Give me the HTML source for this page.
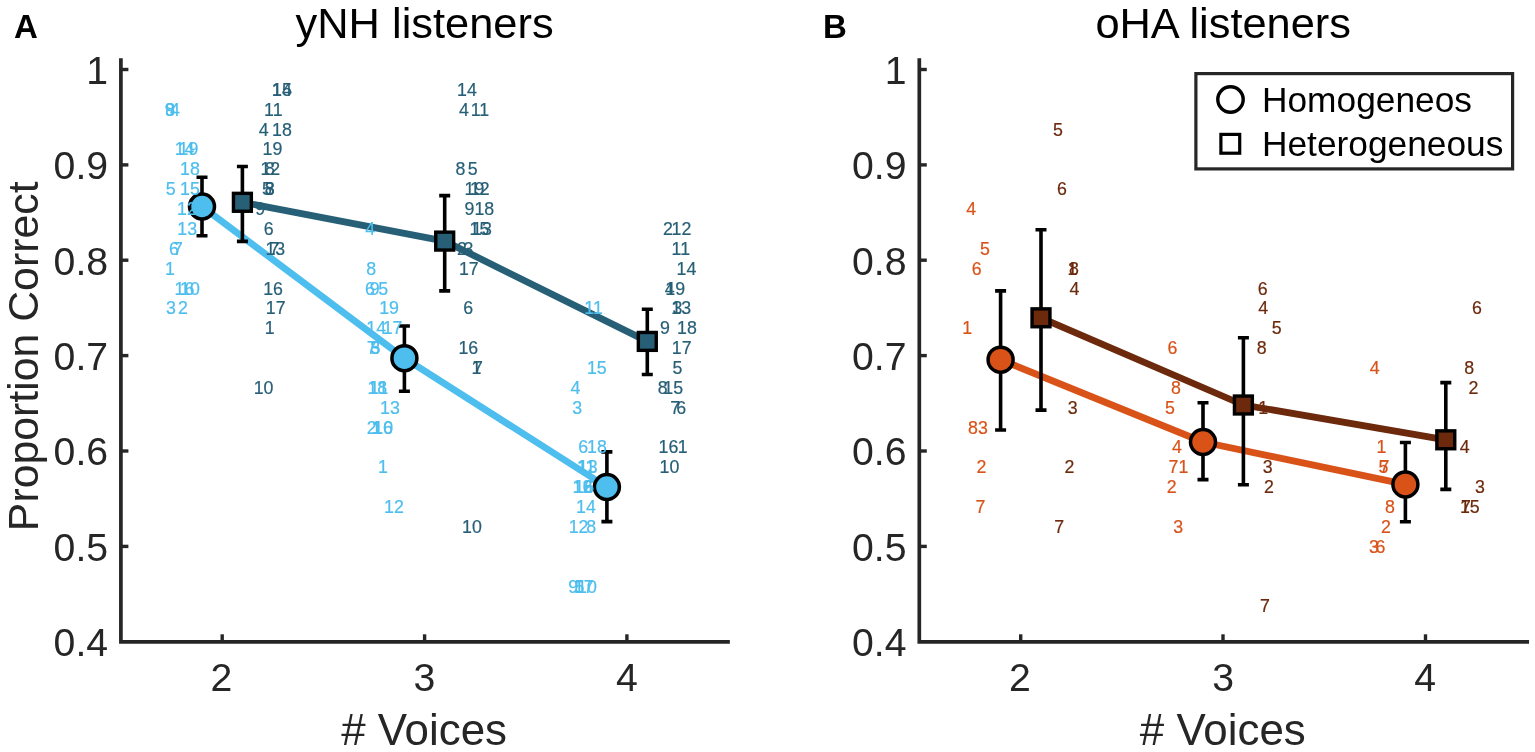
<!DOCTYPE html>
<html lang="en"><head><meta charset="utf-8"><title>Figure: yNH and oHA listeners</title>
<style>
html,body{margin:0;padding:0;background:#fff;}
body{width:1535px;height:752px;overflow:hidden;}
svg{display:block;font-family:"Liberation Sans",sans-serif;}
.tk{font-size:39.2px;fill:#262626;}
.lab{font-size:43.9px;fill:#262626;}
.ttl{font-size:43.4px;fill:#000;}
.pan{font-size:33px;font-weight:bold;fill:#000;}
.leg{font-size:35.3px;fill:#000;}
.n text{font-size:17.8px;text-anchor:middle;stroke-width:.2px;}
</style></head><body>
<svg width="1535" height="752" viewBox="0 0 1535 752">
<rect width="1535" height="752" fill="#fff"/>
<text class="pan" x="14" y="38.3">A</text>
<text class="pan" x="823" y="38.3">B</text>
<text class="ttl" x="424.6" y="37.7" text-anchor="middle">yNH listeners</text>
<text class="ttl" x="1223.2" y="37.7" text-anchor="middle">oHA listeners</text>
<text class="lab" x="424.1" y="745" text-anchor="middle"># Voices</text>
<text class="lab" x="1222.8" y="745" text-anchor="middle"># Voices</text>
<text class="lab" style="font-size:42.8px" transform="translate(37.7 356.3) rotate(-90)" text-anchor="middle">Proportion Correct</text>
<g id="axesA"><path d="M120.9 60.2V641.8H728.0" fill="none" stroke="#262626" stroke-width="3.7" stroke-linecap="square" stroke-linejoin="miter"/>
<path d="M120.9 69.5h7.5" stroke="#262626" stroke-width="3.4"/>
<text class="tk" x="108.1" y="83.9" text-anchor="end">1</text>
<path d="M120.9 164.9h7.5" stroke="#262626" stroke-width="3.4"/>
<text class="tk" x="108.1" y="179.3" text-anchor="end">0.9</text>
<path d="M120.9 260.2h7.5" stroke="#262626" stroke-width="3.4"/>
<text class="tk" x="108.1" y="274.6" text-anchor="end">0.8</text>
<path d="M120.9 355.6h7.5" stroke="#262626" stroke-width="3.4"/>
<text class="tk" x="108.1" y="370.0" text-anchor="end">0.7</text>
<path d="M120.9 451.0h7.5" stroke="#262626" stroke-width="3.4"/>
<text class="tk" x="108.1" y="465.4" text-anchor="end">0.6</text>
<path d="M120.9 546.4h7.5" stroke="#262626" stroke-width="3.4"/>
<text class="tk" x="108.1" y="560.8" text-anchor="end">0.5</text>
<text class="tk" x="108.1" y="656.1" text-anchor="end">0.4</text>
<path d="M222.2 641.8v-7.5" stroke="#262626" stroke-width="3.4"/>
<text class="tk" x="221.5" y="691" text-anchor="middle">2</text>
<path d="M424.6 641.8v-7.5" stroke="#262626" stroke-width="3.4"/>
<text class="tk" x="424.4" y="691" text-anchor="middle">3</text>
<path d="M626.9 641.8v-7.5" stroke="#262626" stroke-width="3.4"/>
<text class="tk" x="626.8" y="691" text-anchor="middle">4</text></g>
<g id="axesB"><path d="M919.3 60.2V641.8H1527.2" fill="none" stroke="#262626" stroke-width="3.7" stroke-linecap="square" stroke-linejoin="miter"/>
<path d="M919.3 69.5h7.5" stroke="#262626" stroke-width="3.4"/>
<text class="tk" x="906.5" y="83.9" text-anchor="end">1</text>
<path d="M919.3 164.9h7.5" stroke="#262626" stroke-width="3.4"/>
<text class="tk" x="906.5" y="179.3" text-anchor="end">0.9</text>
<path d="M919.3 260.2h7.5" stroke="#262626" stroke-width="3.4"/>
<text class="tk" x="906.5" y="274.6" text-anchor="end">0.8</text>
<path d="M919.3 355.6h7.5" stroke="#262626" stroke-width="3.4"/>
<text class="tk" x="906.5" y="370.0" text-anchor="end">0.7</text>
<path d="M919.3 451.0h7.5" stroke="#262626" stroke-width="3.4"/>
<text class="tk" x="906.5" y="465.4" text-anchor="end">0.6</text>
<path d="M919.3 546.4h7.5" stroke="#262626" stroke-width="3.4"/>
<text class="tk" x="906.5" y="560.8" text-anchor="end">0.5</text>
<text class="tk" x="906.5" y="656.1" text-anchor="end">0.4</text>
<path d="M1020.7 641.8v-7.5" stroke="#262626" stroke-width="3.4"/>
<text class="tk" x="1019.8" y="691" text-anchor="middle">2</text>
<path d="M1223.0 641.8v-7.5" stroke="#262626" stroke-width="3.4"/>
<text class="tk" x="1223.2" y="691" text-anchor="middle">3</text>
<path d="M1425.5 641.8v-7.5" stroke="#262626" stroke-width="3.4"/>
<text class="tk" x="1425.2" y="691" text-anchor="middle">4</text></g>
<polyline points="202.0,206.5 404.4,358.2 606.9,487.0" fill="none" stroke="#4DBEEE" stroke-width="6.8" stroke-linejoin="round"/>
<polyline points="242.4,202.3 444.7,241.1 647.3,341.4" fill="none" stroke="#275F77" stroke-width="6.8" stroke-linejoin="round"/>
<polyline points="1000.6,359.7 1203.0,442.0 1405.4,484.4" fill="none" stroke="#D95319" stroke-width="6.8" stroke-linejoin="round"/>
<polyline points="1041.0,317.8 1243.4,405.0 1445.8,439.8" fill="none" stroke="#6C290C" stroke-width="6.8" stroke-linejoin="round"/>
<path d="M202.0 177.3V235.8M196.5 177.3h11M196.5 235.8h11" stroke="#000" stroke-width="3.6" fill="none"/>
<path d="M404.4 326.0V391.3M398.9 326.0h11M398.9 391.3h11" stroke="#000" stroke-width="3.6" fill="none"/>
<path d="M606.9 451.9V521.6M601.4 451.9h11M601.4 521.6h11" stroke="#000" stroke-width="3.6" fill="none"/>
<circle cx="202.0" cy="206.5" r="12.5" fill="#4DBEEE" stroke="#000" stroke-width="3.5"/>
<circle cx="404.4" cy="358.2" r="12.5" fill="#4DBEEE" stroke="#000" stroke-width="3.5"/>
<circle cx="606.9" cy="487.0" r="12.5" fill="#4DBEEE" stroke="#000" stroke-width="3.5"/>
<path d="M242.4 166.5V241.4M236.9 166.5h11M236.9 241.4h11" stroke="#000" stroke-width="3.6" fill="none"/>
<path d="M444.7 195.6V290.9M439.2 195.6h11M439.2 290.9h11" stroke="#000" stroke-width="3.6" fill="none"/>
<path d="M647.3 309.2V374.5M641.8 309.2h11M641.8 374.5h11" stroke="#000" stroke-width="3.6" fill="none"/>
<rect x="233.45" y="193.35" width="17.9" height="17.9" fill="#275F77" stroke="#000" stroke-width="3.4"/>
<rect x="435.75" y="232.15" width="17.9" height="17.9" fill="#275F77" stroke="#000" stroke-width="3.4"/>
<rect x="638.35" y="332.45" width="17.9" height="17.9" fill="#275F77" stroke="#000" stroke-width="3.4"/>
<path d="M1000.6 290.9V430.0M995.1 290.9h11M995.1 430.0h11" stroke="#000" stroke-width="3.6" fill="none"/>
<path d="M1203.0 402.7V479.6M1197.5 402.7h11M1197.5 479.6h11" stroke="#000" stroke-width="3.6" fill="none"/>
<path d="M1405.4 442.5V521.8M1399.9 442.5h11M1399.9 521.8h11" stroke="#000" stroke-width="3.6" fill="none"/>
<circle cx="1000.6" cy="359.7" r="12.5" fill="#D95319" stroke="#000" stroke-width="3.5"/>
<circle cx="1203.0" cy="442.0" r="12.5" fill="#D95319" stroke="#000" stroke-width="3.5"/>
<circle cx="1405.4" cy="484.4" r="12.5" fill="#D95319" stroke="#000" stroke-width="3.5"/>
<path d="M1041.0 229.7V410.1M1035.5 229.7h11M1035.5 410.1h11" stroke="#000" stroke-width="3.6" fill="none"/>
<path d="M1243.4 337.8V484.7M1237.9 337.8h11M1237.9 484.7h11" stroke="#000" stroke-width="3.6" fill="none"/>
<path d="M1445.8 382.6V489.4M1440.3 382.6h11M1440.3 489.4h11" stroke="#000" stroke-width="3.6" fill="none"/>
<rect x="1032.05" y="308.85" width="17.9" height="17.9" fill="#6C290C" stroke="#000" stroke-width="3.4"/>
<rect x="1234.45" y="396.05" width="17.9" height="17.9" fill="#6C290C" stroke="#000" stroke-width="3.4"/>
<rect x="1436.85" y="430.85" width="17.9" height="17.9" fill="#6C290C" stroke="#000" stroke-width="3.4"/>
<g class="n">
<text x="169.7" y="115.6" fill="#4DBEEE" stroke="#4DBEEE">9</text>
<text x="170.2" y="115.6" fill="#4DBEEE" stroke="#4DBEEE">8</text>
<text x="174.9" y="115.6" fill="#4DBEEE" stroke="#4DBEEE">4</text>
<text x="184.6" y="155.4" fill="#4DBEEE" stroke="#4DBEEE">14</text>
<text x="188.5" y="155.4" fill="#4DBEEE" stroke="#4DBEEE">19</text>
<text x="190.0" y="175.3" fill="#4DBEEE" stroke="#4DBEEE">18</text>
<text x="170.7" y="195.1" fill="#4DBEEE" stroke="#4DBEEE">5</text>
<text x="190.0" y="195.1" fill="#4DBEEE" stroke="#4DBEEE">15</text>
<text x="187.0" y="215.0" fill="#4DBEEE" stroke="#4DBEEE">12</text>
<text x="187.2" y="234.9" fill="#4DBEEE" stroke="#4DBEEE">13</text>
<text x="174.0" y="254.7" fill="#4DBEEE" stroke="#4DBEEE">6</text>
<text x="178.0" y="254.7" fill="#4DBEEE" stroke="#4DBEEE">7</text>
<text x="170.0" y="274.6" fill="#4DBEEE" stroke="#4DBEEE">1</text>
<text x="184.5" y="294.5" fill="#4DBEEE" stroke="#4DBEEE">16</text>
<text x="190.0" y="294.5" fill="#4DBEEE" stroke="#4DBEEE">10</text>
<text x="171.0" y="314.3" fill="#4DBEEE" stroke="#4DBEEE">3</text>
<text x="182.9" y="314.3" fill="#4DBEEE" stroke="#4DBEEE">2</text>
<text x="370.3" y="234.9" fill="#4DBEEE" stroke="#4DBEEE">4</text>
<text x="371.3" y="274.6" fill="#4DBEEE" stroke="#4DBEEE">8</text>
<text x="370.0" y="294.5" fill="#4DBEEE" stroke="#4DBEEE">6</text>
<text x="374.6" y="294.5" fill="#4DBEEE" stroke="#4DBEEE">9</text>
<text x="383.3" y="294.5" fill="#4DBEEE" stroke="#4DBEEE">5</text>
<text x="389.1" y="314.3" fill="#4DBEEE" stroke="#4DBEEE">19</text>
<text x="376.2" y="334.2" fill="#4DBEEE" stroke="#4DBEEE">14</text>
<text x="392.6" y="334.2" fill="#4DBEEE" stroke="#4DBEEE">17</text>
<text x="371.8" y="354.1" fill="#4DBEEE" stroke="#4DBEEE">7</text>
<text x="375.2" y="354.1" fill="#4DBEEE" stroke="#4DBEEE">3</text>
<text x="375.5" y="354.1" fill="#4DBEEE" stroke="#4DBEEE">5</text>
<text x="377.3" y="393.8" fill="#4DBEEE" stroke="#4DBEEE">18</text>
<text x="378.8" y="393.8" fill="#4DBEEE" stroke="#4DBEEE">11</text>
<text x="390.0" y="413.7" fill="#4DBEEE" stroke="#4DBEEE">13</text>
<text x="371.6" y="433.5" fill="#4DBEEE" stroke="#4DBEEE">2</text>
<text x="376.5" y="433.5" fill="#4DBEEE" stroke="#4DBEEE">1</text>
<text x="383.0" y="433.5" fill="#4DBEEE" stroke="#4DBEEE">16</text>
<text x="383.2" y="433.5" fill="#4DBEEE" stroke="#4DBEEE">10</text>
<text x="382.9" y="473.3" fill="#4DBEEE" stroke="#4DBEEE">1</text>
<text x="394.0" y="513.0" fill="#4DBEEE" stroke="#4DBEEE">12</text>
<text x="593.6" y="314.3" fill="#4DBEEE" stroke="#4DBEEE">11</text>
<text x="596.8" y="373.9" fill="#4DBEEE" stroke="#4DBEEE">15</text>
<text x="575.5" y="393.8" fill="#4DBEEE" stroke="#4DBEEE">4</text>
<text x="577.3" y="413.7" fill="#4DBEEE" stroke="#4DBEEE">3</text>
<text x="583.3" y="453.4" fill="#4DBEEE" stroke="#4DBEEE">6</text>
<text x="596.9" y="453.4" fill="#4DBEEE" stroke="#4DBEEE">18</text>
<text x="586.2" y="473.3" fill="#4DBEEE" stroke="#4DBEEE">11</text>
<text x="587.8" y="473.3" fill="#4DBEEE" stroke="#4DBEEE">13</text>
<text x="582.5" y="493.2" fill="#4DBEEE" stroke="#4DBEEE">12</text>
<text x="584.2" y="493.2" fill="#4DBEEE" stroke="#4DBEEE">16</text>
<text x="587.5" y="493.2" fill="#4DBEEE" stroke="#4DBEEE">6</text>
<text x="585.9" y="513.0" fill="#4DBEEE" stroke="#4DBEEE">14</text>
<text x="578.6" y="532.9" fill="#4DBEEE" stroke="#4DBEEE">12</text>
<text x="591.3" y="532.9" fill="#4DBEEE" stroke="#4DBEEE">8</text>
<text x="573.3" y="592.5" fill="#4DBEEE" stroke="#4DBEEE">9</text>
<text x="579.5" y="592.5" fill="#4DBEEE" stroke="#4DBEEE">5</text>
<text x="583.8" y="592.5" fill="#4DBEEE" stroke="#4DBEEE">17</text>
<text x="586.9" y="592.5" fill="#4DBEEE" stroke="#4DBEEE">10</text>
<text x="282.0" y="95.8" fill="#275F77" stroke="#275F77">15</text>
<text x="282.0" y="95.8" fill="#275F77" stroke="#275F77">14</text>
<text x="273.3" y="115.6" fill="#275F77" stroke="#275F77">11</text>
<text x="263.6" y="135.5" fill="#275F77" stroke="#275F77">4</text>
<text x="282.0" y="135.5" fill="#275F77" stroke="#275F77">18</text>
<text x="272.5" y="155.4" fill="#275F77" stroke="#275F77">19</text>
<text x="270.3" y="175.3" fill="#275F77" stroke="#275F77">12</text>
<text x="270.0" y="175.3" fill="#275F77" stroke="#275F77">8</text>
<text x="267.0" y="195.1" fill="#275F77" stroke="#275F77">5</text>
<text x="269.6" y="195.1" fill="#275F77" stroke="#275F77">3</text>
<text x="269.6" y="195.1" fill="#275F77" stroke="#275F77">8</text>
<text x="260.2" y="215.0" fill="#275F77" stroke="#275F77">9</text>
<text x="268.7" y="234.9" fill="#275F77" stroke="#275F77">6</text>
<text x="274.4" y="254.7" fill="#275F77" stroke="#275F77">7</text>
<text x="275.3" y="254.7" fill="#275F77" stroke="#275F77">13</text>
<text x="273.1" y="294.5" fill="#275F77" stroke="#275F77">16</text>
<text x="275.7" y="314.3" fill="#275F77" stroke="#275F77">17</text>
<text x="269.8" y="334.2" fill="#275F77" stroke="#275F77">1</text>
<text x="263.6" y="393.8" fill="#275F77" stroke="#275F77">10</text>
<text x="467.0" y="95.8" fill="#275F77" stroke="#275F77">14</text>
<text x="464.0" y="115.6" fill="#275F77" stroke="#275F77">4</text>
<text x="480.0" y="115.6" fill="#275F77" stroke="#275F77">11</text>
<text x="460.4" y="175.3" fill="#275F77" stroke="#275F77">8</text>
<text x="472.8" y="175.3" fill="#275F77" stroke="#275F77">5</text>
<text x="474.5" y="195.1" fill="#275F77" stroke="#275F77">19</text>
<text x="479.8" y="195.1" fill="#275F77" stroke="#275F77">12</text>
<text x="469.4" y="215.0" fill="#275F77" stroke="#275F77">9</text>
<text x="484.3" y="215.0" fill="#275F77" stroke="#275F77">18</text>
<text x="479.5" y="234.9" fill="#275F77" stroke="#275F77">15</text>
<text x="482.0" y="234.9" fill="#275F77" stroke="#275F77">13</text>
<text x="462.0" y="254.7" fill="#275F77" stroke="#275F77">2</text>
<text x="468.5" y="254.7" fill="#275F77" stroke="#275F77">3</text>
<text x="468.8" y="274.6" fill="#275F77" stroke="#275F77">17</text>
<text x="468.3" y="314.3" fill="#275F77" stroke="#275F77">6</text>
<text x="468.3" y="354.1" fill="#275F77" stroke="#275F77">16</text>
<text x="478.0" y="373.9" fill="#275F77" stroke="#275F77">7</text>
<text x="476.5" y="373.9" fill="#275F77" stroke="#275F77">1</text>
<text x="471.9" y="532.9" fill="#275F77" stroke="#275F77">10</text>
<text x="668.0" y="234.9" fill="#275F77" stroke="#275F77">2</text>
<text x="681.5" y="234.9" fill="#275F77" stroke="#275F77">12</text>
<text x="680.8" y="254.7" fill="#275F77" stroke="#275F77">11</text>
<text x="686.5" y="274.6" fill="#275F77" stroke="#275F77">14</text>
<text x="669.8" y="294.5" fill="#275F77" stroke="#275F77">4</text>
<text x="675.2" y="294.5" fill="#275F77" stroke="#275F77">19</text>
<text x="677.5" y="314.3" fill="#275F77" stroke="#275F77">3</text>
<text x="681.2" y="314.3" fill="#275F77" stroke="#275F77">13</text>
<text x="665.0" y="334.2" fill="#275F77" stroke="#275F77">9</text>
<text x="687.0" y="334.2" fill="#275F77" stroke="#275F77">18</text>
<text x="681.7" y="354.1" fill="#275F77" stroke="#275F77">17</text>
<text x="677.4" y="373.9" fill="#275F77" stroke="#275F77">5</text>
<text x="662.7" y="393.8" fill="#275F77" stroke="#275F77">8</text>
<text x="673.2" y="393.8" fill="#275F77" stroke="#275F77">15</text>
<text x="675.2" y="413.7" fill="#275F77" stroke="#275F77">7</text>
<text x="681.3" y="413.7" fill="#275F77" stroke="#275F77">6</text>
<text x="668.4" y="453.4" fill="#275F77" stroke="#275F77">16</text>
<text x="682.7" y="453.4" fill="#275F77" stroke="#275F77">1</text>
<text x="669.4" y="473.3" fill="#275F77" stroke="#275F77">10</text>
<text x="971.3" y="215.0" fill="#D95319" stroke="#D95319">4</text>
<text x="985.0" y="254.7" fill="#D95319" stroke="#D95319">5</text>
<text x="976.8" y="274.6" fill="#D95319" stroke="#D95319">6</text>
<text x="967.3" y="334.2" fill="#D95319" stroke="#D95319">1</text>
<text x="978.0" y="433.5" fill="#D95319" stroke="#D95319">83</text>
<text x="981.4" y="473.3" fill="#D95319" stroke="#D95319">2</text>
<text x="980.5" y="513.0" fill="#D95319" stroke="#D95319">7</text>
<text x="1172.4" y="354.1" fill="#D95319" stroke="#D95319">6</text>
<text x="1176.0" y="393.8" fill="#D95319" stroke="#D95319">8</text>
<text x="1170.0" y="413.7" fill="#D95319" stroke="#D95319">5</text>
<text x="1177.0" y="453.4" fill="#D95319" stroke="#D95319">4</text>
<text x="1178.5" y="473.3" fill="#D95319" stroke="#D95319">71</text>
<text x="1171.7" y="493.2" fill="#D95319" stroke="#D95319">2</text>
<text x="1178.2" y="532.9" fill="#D95319" stroke="#D95319">3</text>
<text x="1374.8" y="373.9" fill="#D95319" stroke="#D95319">4</text>
<text x="1381.5" y="453.4" fill="#D95319" stroke="#D95319">1</text>
<text x="1383.5" y="473.3" fill="#D95319" stroke="#D95319">5</text>
<text x="1384.5" y="473.3" fill="#D95319" stroke="#D95319">7</text>
<text x="1390.0" y="513.0" fill="#D95319" stroke="#D95319">8</text>
<text x="1386.0" y="532.9" fill="#D95319" stroke="#D95319">2</text>
<text x="1374.0" y="552.8" fill="#D95319" stroke="#D95319">3</text>
<text x="1380.5" y="552.8" fill="#D95319" stroke="#D95319">6</text>
<text x="1057.9" y="135.5" fill="#6C290C" stroke="#6C290C">5</text>
<text x="1062.0" y="195.1" fill="#6C290C" stroke="#6C290C">6</text>
<text x="1074.0" y="274.6" fill="#6C290C" stroke="#6C290C">8</text>
<text x="1072.5" y="274.6" fill="#6C290C" stroke="#6C290C">1</text>
<text x="1074.5" y="294.5" fill="#6C290C" stroke="#6C290C">4</text>
<text x="1072.6" y="413.7" fill="#6C290C" stroke="#6C290C">3</text>
<text x="1069.4" y="473.3" fill="#6C290C" stroke="#6C290C">2</text>
<text x="1059.3" y="532.9" fill="#6C290C" stroke="#6C290C">7</text>
<text x="1262.8" y="294.5" fill="#6C290C" stroke="#6C290C">6</text>
<text x="1263.3" y="314.3" fill="#6C290C" stroke="#6C290C">4</text>
<text x="1276.6" y="334.2" fill="#6C290C" stroke="#6C290C">5</text>
<text x="1261.7" y="354.1" fill="#6C290C" stroke="#6C290C">8</text>
<text x="1263.2" y="413.7" fill="#6C290C" stroke="#6C290C">1</text>
<text x="1267.7" y="473.3" fill="#6C290C" stroke="#6C290C">3</text>
<text x="1269.0" y="493.2" fill="#6C290C" stroke="#6C290C">2</text>
<text x="1265.0" y="612.4" fill="#6C290C" stroke="#6C290C">7</text>
<text x="1477.0" y="314.3" fill="#6C290C" stroke="#6C290C">6</text>
<text x="1469.3" y="373.9" fill="#6C290C" stroke="#6C290C">8</text>
<text x="1473.4" y="393.8" fill="#6C290C" stroke="#6C290C">2</text>
<text x="1464.7" y="453.4" fill="#6C290C" stroke="#6C290C">4</text>
<text x="1480.0" y="493.2" fill="#6C290C" stroke="#6C290C">3</text>
<text x="1466.0" y="513.0" fill="#6C290C" stroke="#6C290C">7</text>
<text x="1465.0" y="513.0" fill="#6C290C" stroke="#6C290C">1</text>
<text x="1474.6" y="513.0" fill="#6C290C" stroke="#6C290C">5</text>
</g>
<rect x="1195.9" y="73.6" width="316.7" height="95.3" fill="#fff" stroke="#262626" stroke-width="3.2"/>
<circle cx="1230.5" cy="99.5" r="12.7" fill="none" stroke="#000" stroke-width="3.4"/>
<rect x="1220.9" y="134.4" width="18.8" height="18.8" fill="none" stroke="#000" stroke-width="3.2"/>
<text class="leg" x="1262" y="112">Homogeneos</text>
<text class="leg" x="1262" y="155.5">Heterogeneous</text>
</svg></body></html>
